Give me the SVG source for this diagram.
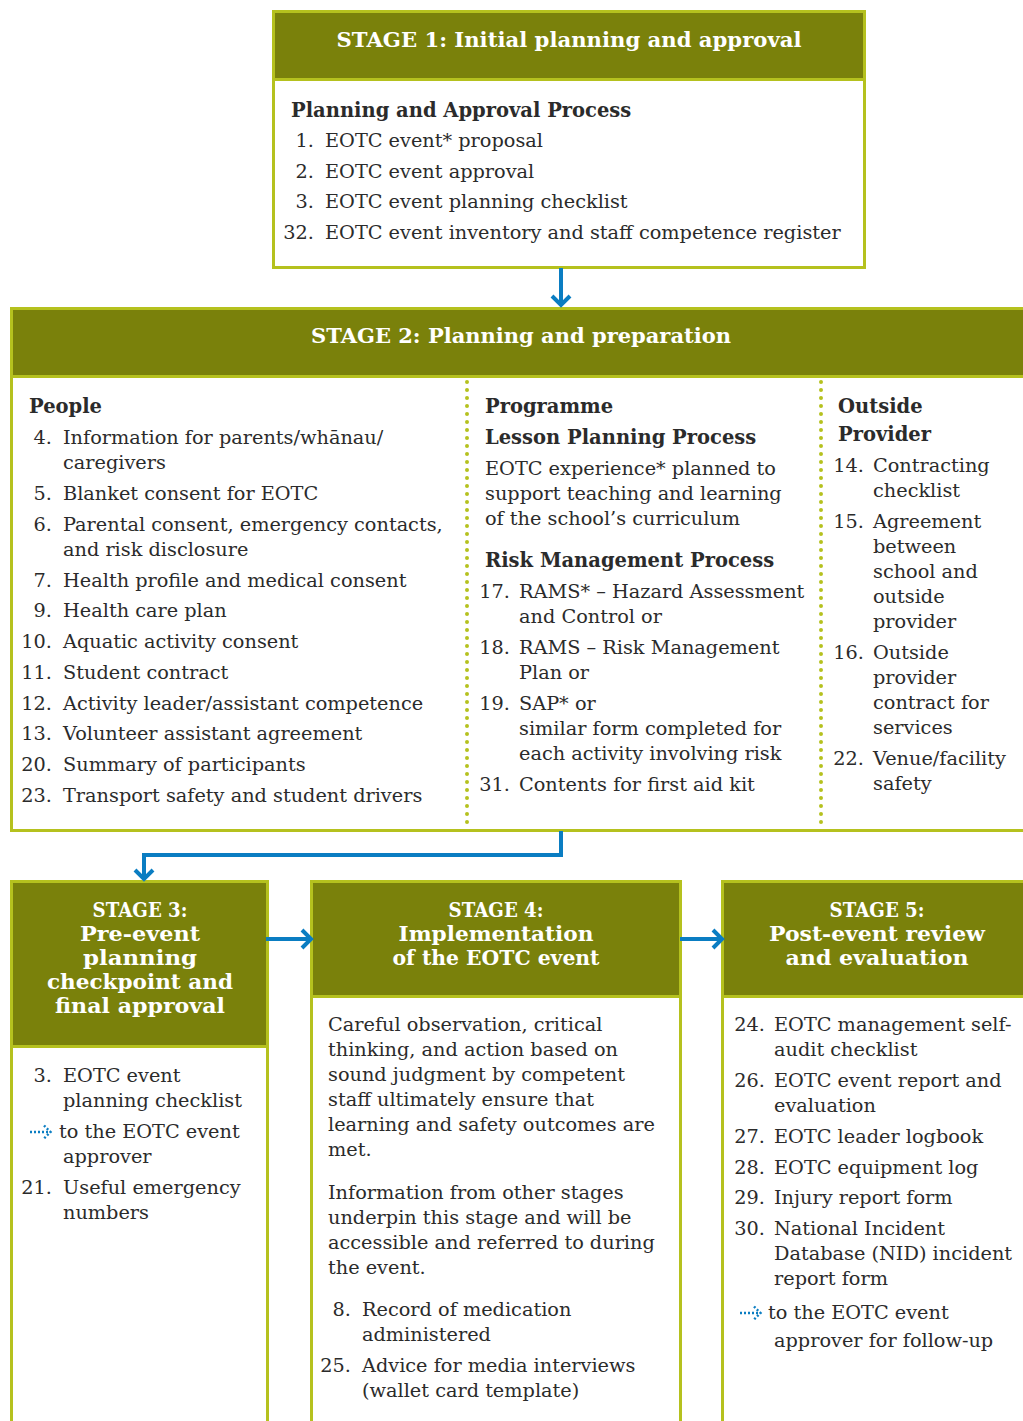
<svg xmlns="http://www.w3.org/2000/svg" width="1023" height="1421" viewBox="0 0 1023 1421">
<style>
.box{fill:#fff;stroke:#b5c11e;stroke-width:3}
.hd{fill:#7a810b}
.sep{stroke:#b5c11e;stroke-width:3}
.ht{font-family:"DejaVu Serif",serif;font-weight:bold;font-size:20px;fill:#fff;text-anchor:middle}
.t{font-family:"DejaVu Serif",serif;font-size:19.3px;fill:#2b2b2b}
.n{font-family:"DejaVu Serif",serif;font-size:19.3px;fill:#2b2b2b;text-anchor:end}
.b{font-family:"DejaVu Serif",serif;font-weight:bold;font-size:19.5px;fill:#2b2b2b}
.div{stroke:#b5c11e;stroke-width:4;stroke-dasharray:0 8;stroke-linecap:round}
.con{fill:none;stroke:#0a7dc2;stroke-width:4}
.ico{fill:none;stroke:#0a7dc2;stroke-width:2.4;stroke-dasharray:2 2}
</style>
<rect width="1023" height="1421" fill="#fff"/>

<g id="stage1">
<rect class="box" x="273.5" y="11.5" width="591" height="256"/>
<rect class="hd" x="275" y="13" width="588" height="65"/>
<line class="sep" x1="273" y1="79.5" x2="865" y2="79.5"/>
<text class="ht" x="569" y="47" textLength="465" lengthAdjust="spacingAndGlyphs">STAGE 1: Initial planning and approval</text>
<text class="b" x="291" y="117">Planning and Approval Process</text>
<text class="n" x="314" y="147">1.</text><text class="t" x="325" y="147">EOTC event* proposal</text>
<text class="n" x="314" y="178">2.</text><text class="t" x="325" y="178">EOTC event approval</text>
<text class="n" x="314" y="208">3.</text><text class="t" x="325" y="208">EOTC event planning checklist</text>
<text class="n" x="314" y="239">32.</text><text class="t" x="325" y="239">EOTC event inventory and staff competence register</text>
</g>

<g id="stage2">
<rect class="box" x="11.5" y="308.5" width="1030" height="522"/>
<rect class="hd" x="13" y="310" width="1020" height="65"/>
<line class="sep" x1="10" y1="376.5" x2="1023" y2="376.5"/>
<text class="ht" x="521" y="343" textLength="420" lengthAdjust="spacingAndGlyphs">STAGE 2: Planning and preparation</text>
<line class="div" x1="467" y1="382" x2="467" y2="828"/>
<line class="div" x1="821" y1="382" x2="821" y2="828"/>
<text class="b" x="29" y="413">People</text>
<text class="n" x="52" y="444">4.</text><text class="t" x="63" y="444">Information for parents/whānau/</text>
<text class="t" x="63" y="469">caregivers</text>
<text class="n" x="52" y="500">5.</text><text class="t" x="63" y="500">Blanket consent for EOTC</text>
<text class="n" x="52" y="531">6.</text><text class="t" x="63" y="531">Parental consent, emergency contacts,</text>
<text class="t" x="63" y="556">and risk disclosure</text>
<text class="n" x="52" y="587">7.</text><text class="t" x="63" y="587">Health profile and medical consent</text>
<text class="n" x="52" y="617">9.</text><text class="t" x="63" y="617">Health care plan</text>
<text class="n" x="52" y="648">10.</text><text class="t" x="63" y="648">Aquatic activity consent</text>
<text class="n" x="52" y="679">11.</text><text class="t" x="63" y="679">Student contract</text>
<text class="n" x="52" y="710">12.</text><text class="t" x="63" y="710">Activity leader/assistant competence</text>
<text class="n" x="52" y="740">13.</text><text class="t" x="63" y="740">Volunteer assistant agreement</text>
<text class="n" x="52" y="771">20.</text><text class="t" x="63" y="771">Summary of participants</text>
<text class="n" x="52" y="802">23.</text><text class="t" x="63" y="802">Transport safety and student drivers</text>

<text class="b" x="485" y="413">Programme</text>
<text class="b" x="485" y="444">Lesson Planning Process</text>
<text class="t" x="485" y="475">EOTC experience* planned to</text>
<text class="t" x="485" y="500">support teaching and learning</text>
<text class="t" x="485" y="525">of the school’s curriculum</text>
<text class="b" x="485" y="567">Risk Management Process</text>
<text class="n" x="510" y="598">17.</text><text class="t" x="519" y="598">RAMS* – Hazard Assessment</text>
<text class="t" x="519" y="623">and Control or</text>
<text class="n" x="510" y="654">18.</text><text class="t" x="519" y="654">RAMS – Risk Management</text>
<text class="t" x="519" y="679">Plan or</text>
<text class="n" x="510" y="710">19.</text><text class="t" x="519" y="710">SAP* or</text>
<text class="t" x="519" y="735">similar form completed for</text>
<text class="t" x="519" y="760">each activity involving risk</text>
<text class="n" x="510" y="791">31.</text><text class="t" x="519" y="791">Contents for first aid kit</text>

<text class="b" x="838" y="413">Outside</text>
<text class="b" x="838" y="441">Provider</text>
<text class="n" x="864" y="472">14.</text><text class="t" x="873" y="472">Contracting</text>
<text class="t" x="873" y="497">checklist</text>
<text class="n" x="864" y="528">15.</text><text class="t" x="873" y="528">Agreement</text>
<text class="t" x="873" y="553">between</text>
<text class="t" x="873" y="578">school and</text>
<text class="t" x="873" y="603">outside</text>
<text class="t" x="873" y="628">provider</text>
<text class="n" x="864" y="659">16.</text><text class="t" x="873" y="659">Outside</text>
<text class="t" x="873" y="684">provider</text>
<text class="t" x="873" y="709">contract for</text>
<text class="t" x="873" y="734">services</text>
<text class="n" x="864" y="765">22.</text><text class="t" x="873" y="765">Venue/facility</text>
<text class="t" x="873" y="790">safety</text>
</g>

<g id="stage3">
<rect class="box" x="11.5" y="881.5" width="256" height="560"/>
<rect class="hd" x="13" y="883" width="253" height="162"/>
<line class="sep" x1="10" y1="1046.5" x2="269" y2="1046.5"/>
<text class="ht" x="140" y="917" textLength="95" lengthAdjust="spacingAndGlyphs">STAGE 3:</text>
<text class="ht" x="140" y="941" textLength="120" lengthAdjust="spacingAndGlyphs">Pre-event</text>
<text class="ht" x="140" y="965" textLength="114" lengthAdjust="spacingAndGlyphs">planning</text>
<text class="ht" x="140" y="989" textLength="186" lengthAdjust="spacingAndGlyphs">checkpoint and</text>
<text class="ht" x="140" y="1013" textLength="170" lengthAdjust="spacingAndGlyphs">final approval</text>
<text class="n" x="52" y="1082">3.</text><text class="t" x="63" y="1082">EOTC event</text>
<text class="t" x="63" y="1107">planning checklist</text>
<path class="ico" d="M30,1132 H48 M44,1125.5 L50.5,1132 L44,1138.5"/>
<text class="t" x="59" y="1138">to the EOTC event</text>
<text class="t" x="63" y="1163">approver</text>
<text class="n" x="52" y="1194">21.</text><text class="t" x="63" y="1194">Useful emergency</text>
<text class="t" x="63" y="1219">numbers</text>
</g>

<g id="stage4">
<rect class="box" x="311.5" y="881.5" width="369" height="560"/>
<rect class="hd" x="313" y="883" width="366" height="112"/>
<line class="sep" x1="310" y1="996.5" x2="682" y2="996.5"/>
<text class="ht" x="496" y="917" textLength="95" lengthAdjust="spacingAndGlyphs">STAGE 4:</text>
<text class="ht" x="496" y="941" textLength="195" lengthAdjust="spacingAndGlyphs">Implementation</text>
<text class="ht" x="496" y="965" textLength="207" lengthAdjust="spacingAndGlyphs">of the EOTC event</text>
<text class="t" x="328" y="1031">Careful observation, critical</text>
<text class="t" x="328" y="1056">thinking, and action based on</text>
<text class="t" x="328" y="1081">sound judgment by competent</text>
<text class="t" x="328" y="1106">staff ultimately ensure that</text>
<text class="t" x="328" y="1131">learning and safety outcomes are</text>
<text class="t" x="328" y="1156">met.</text>
<text class="t" x="328" y="1199">Information from other stages</text>
<text class="t" x="328" y="1224">underpin this stage and will be</text>
<text class="t" x="328" y="1249">accessible and referred to during</text>
<text class="t" x="328" y="1274">the event.</text>
<text class="n" x="351" y="1316">8.</text><text class="t" x="362" y="1316">Record of medication</text>
<text class="t" x="362" y="1341">administered</text>
<text class="n" x="351" y="1372">25.</text><text class="t" x="362" y="1372">Advice for media interviews</text>
<text class="t" x="362" y="1397">(wallet card template)</text>
</g>

<g id="stage5">
<rect class="box" x="722.5" y="881.5" width="320" height="560"/>
<rect class="hd" x="724" y="883" width="310" height="112"/>
<line class="sep" x1="721" y1="996.5" x2="1023" y2="996.5"/>
<text class="ht" x="877" y="917" textLength="95" lengthAdjust="spacingAndGlyphs">STAGE 5:</text>
<text class="ht" x="877" y="941" textLength="216" lengthAdjust="spacingAndGlyphs">Post-event review</text>
<text class="ht" x="877" y="965" textLength="183" lengthAdjust="spacingAndGlyphs">and evaluation</text>
<text class="n" x="765" y="1031">24.</text><text class="t" x="774" y="1031">EOTC management self-</text>
<text class="t" x="774" y="1056">audit checklist</text>
<text class="n" x="765" y="1087">26.</text><text class="t" x="774" y="1087">EOTC event report and</text>
<text class="t" x="774" y="1112">evaluation</text>
<text class="n" x="765" y="1143">27.</text><text class="t" x="774" y="1143">EOTC leader logbook</text>
<text class="n" x="765" y="1174">28.</text><text class="t" x="774" y="1174">EOTC equipment log</text>
<text class="n" x="765" y="1204">29.</text><text class="t" x="774" y="1204">Injury report form</text>
<text class="n" x="765" y="1235">30.</text><text class="t" x="774" y="1235">National Incident</text>
<text class="t" x="774" y="1260">Database (NID) incident</text>
<text class="t" x="774" y="1285">report form</text>
<path class="ico" d="M740,1313 H758 M754,1306.5 L760.5,1313 L754,1319.5"/>
<text class="t" x="768" y="1319">to the EOTC event</text>
<text class="t" x="774" y="1347">approver for follow-up</text>
</g>

<g id="connectors">
<path class="con" d="M561,268 V305 M552,296 L561,305 L570,296"/>
<path class="con" d="M561,831 V855 H144 V879 M135,870 L144,879 L153,870"/>
<path class="con" d="M266,939 H311 M302,930 L311,939 L302,948"/>
<path class="con" d="M680,939 H722 M713,930 L722,939 L713,948"/>
</g>
</svg>
